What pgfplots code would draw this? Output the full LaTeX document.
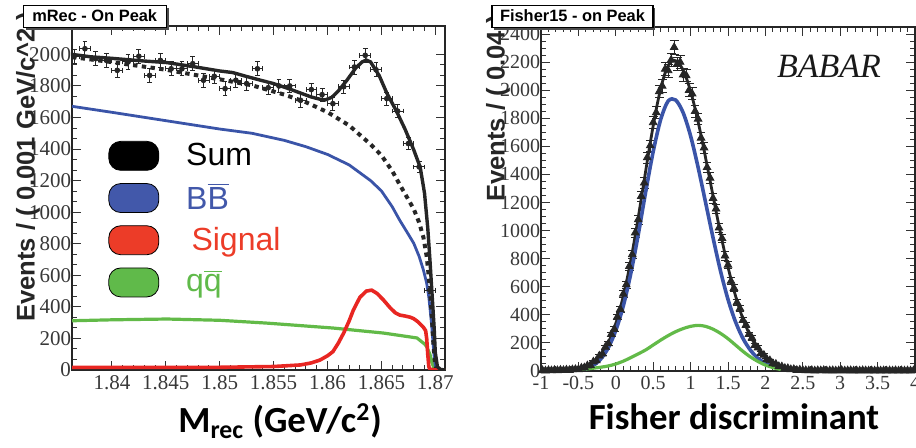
\documentclass[border=0pt]{standalone}
\usepackage{pgfplots}
\pgfplotsset{compat=1.18}
\usepackage{pgfplotstable}
\usepackage{fontspec}
\setmainfont{Liberation Serif}
\newfontfamily\lsans{Liberation Sans}
\newfontfamily\carlito{Carlito}
\usetikzlibrary{shadows}
\definecolor{blueC}{RGB}{58,84,168}
\definecolor{redC}{RGB}{232,38,34}
\definecolor{greenC}{RGB}{98,186,72}
\definecolor{legBlue}{RGB}{66,88,170}
\definecolor{legRed}{RGB}{236,60,40}
\definecolor{legGreen}{RGB}{96,186,74}

% ---------- left panel: Mrec ----------
\pgfplotstableread{
x y ex ey
1.8365 1988 0.0005 45
1.8375 2036 0.0005 45
1.8385 1973 0.0005 45
1.8395 1962 0.0005 45
1.8405 1899 0.0005 44
1.8415 1952 0.0005 45
1.8425 1988 0.0005 45
1.8435 1867 0.0005 44
1.8445 1962 0.0005 45
1.8455 1909 0.0005 44
1.8465 1909 0.0005 44
1.8475 1941 0.0005 44
1.8485 1836 0.0005 43
1.8495 1861 0.0005 43
1.8505 1783 0.0005 43
1.8515 1836 0.0005 43
1.8525 1815 0.0005 43
1.8535 1909 0.0005 44
1.8545 1789 0.0005 43
1.8555 1800 0.0005 43
1.8565 1800 0.0005 43
1.8575 1709 0.0005 42
1.8585 1777 0.0005 42
1.8595 1745 0.0005 42
1.8605 1688 0.0005 41
1.8615 1795 0.0005 43
1.8625 1920 0.0005 44
1.8635 1994 0.0005 45
1.8645 1903 0.0005 44
1.8655 1720 0.0005 42
1.8665 1641 0.0005 41
1.8675 1435 0.0005 38
1.8685 1287 0.0005 36
1.8695 506 0.0005 23
}\mrecdata

\pgfplotstableread{
x y
1.8363 2000
1.8380 1985
1.8400 1975
1.8414 1967
1.8430 1958
1.8451 1948
1.8476 1922
1.8500 1895
1.8512 1885
1.8525 1860
1.8537 1838
1.8550 1815
1.8563 1785
1.8575 1755
1.8585 1730
1.8593 1716
1.8598 1712
1.8604 1728
1.8610 1768
1.8618 1836
1.8626 1912
1.8632 1952
1.8636 1964
1.8640 1952
1.8648 1865
1.8655 1755
1.8664 1640
1.8672 1525
1.8680 1395
1.8686 1285
1.8690 1120
1.8693 900
1.8695 700
1.8697 480
1.8699 260
1.8700 110
1.8702 20
1.8705 3
1.8710 0
}\mrecsum

\pgfplotstableread{
x y
1.8363 1983
1.8400 1951
1.8450 1903
1.8500 1842
1.8530 1804
1.8560 1745
1.8580 1697
1.8600 1634
1.8620 1550
1.8640 1430
1.8650 1360
1.8660 1262
1.8667 1175
1.8675 1080
1.8680 1020
1.8685 935
1.8689 840
1.8692 720
1.8694 590
1.8696 420
1.8697 310
1.8698 190
1.8699 95
1.8700 30
1.8701 5
1.8705 0
}\mrecbkg

\pgfplotstableread{
x y
1.8363 1671
1.8400 1633
1.8450 1580
1.8500 1527
1.8530 1500
1.8560 1455
1.8580 1415
1.8600 1366
1.8620 1300
1.8640 1200
1.8650 1135
1.8660 1035
1.8667 949
1.8675 860
1.8680 803
1.8685 720
1.8689 633
1.8692 550
1.8694 462
1.8696 330
1.8697 253
1.8698 160
1.8699 85
1.8700 30
1.8701 5
1.8705 0
1.8710 0
}\mrecbb

\pgfplotstableread{
x y
1.8363 312
1.8400 318
1.8451 323
1.8500 315
1.8544 297
1.8605 266
1.8652 234
1.8683 203
1.8690 165
1.8692 148
1.8695 100
1.8697 44
1.8699 10
1.8700 0
1.8710 0
}\mrecqq

\pgfplotstableread{
x y
1.8363 17
1.8500 17
1.8550 22
1.8575 32
1.8585 45
1.8593 63
1.8600 90
1.8605 116
1.8610 170
1.8615 234
1.8620 310
1.8624 380
1.8630 460
1.8636 500
1.8641 506
1.8646 485
1.8652 443
1.8658 395
1.8663 362
1.8667 348
1.8672 342
1.8677 334
1.8680 325
1.8684 305
1.8689 270
1.8691 250
1.8692 200
1.8693 100
1.8694 20
1.8695 5
1.8700 0
1.8710 0
}\mrecsig

% ---------- right panel: Fisher ----------
\pgfplotstableread{
x y ey
-0.98 4 2
-0.94 2 1
-0.90 5 2
-0.86 3 2
-0.82 6 2
-0.78 4 2
-0.74 7 3
-0.70 5 2
-0.66 8 3
-0.62 6 2
-0.58 10 3
-0.54 12 3
-0.50 11 3
-0.46 22 5
-0.42 24 5
-0.38 38 6
-0.34 41 6
-0.30 66 8
-0.26 74 9
-0.22 108 10
-0.18 122 11
-0.14 170 13
-0.10 195 14
-0.06 262 16
-0.02 298 17
0.02 385 20
0.06 440 21
0.10 548 23
0.14 615 25
0.18 745 27
0.22 830 29
0.26 985 31
0.30 1078 33
0.34 1245 35
0.38 1340 37
0.42 1520 39
0.46 1605 40
0.50 1770 42
0.54 1840 43
0.58 1990 45
0.62 2030 45
0.66 2150 46
0.70 2140 46
0.74 2215 47
0.78 2305 48
0.82 2185 47
0.86 2200 47
0.90 2110 46
0.94 2105 46
0.98 2000 45
1.02 1975 44
1.06 1850 43
1.10 1795 42
1.14 1660 41
1.18 1590 40
1.22 1450 38
1.26 1375 37
1.30 1230 35
1.34 1155 34
1.38 1020 32
1.42 945 31
1.46 820 29
1.50 755 27
1.54 640 25
1.58 590 24
1.62 488 22
1.66 445 21
1.70 362 19
1.74 328 18
1.78 262 16
1.82 236 15
1.86 184 14
1.90 166 13
1.94 126 11
1.98 113 11
2.02 84 9
2.06 75 9
2.10 54 7
2.14 49 7
2.18 33 6
2.22 31 6
2.26 20 4
2.30 19 4
2.34 11 3
2.38 12 3
2.42 6 2
2.46 8 3
2.50 5 2
2.54 4 2
2.58 3 2
2.62 5 2
2.66 2 1
2.70 4 2
2.74 3 2
2.78 5 2
2.82 2 1
2.86 3 2
2.90 4 2
2.94 2 1
2.98 3 2
3.02 5 2
3.06 2 1
3.10 3 2
3.14 4 2
3.18 2 1
3.22 3 2
3.26 2 1
3.30 4 2
3.34 3 2
3.38 2 1
3.42 3 2
3.46 2 1
3.50 4 2
3.54 2 1
3.58 3 2
3.62 2 1
3.66 3 2
3.70 2 1
3.74 4 2
3.78 2 1
3.82 3 2
3.86 2 1
3.90 3 2
3.94 2 1
3.98 3 2
}\fishdata

\pgfplotstableread{
x y
-1.00 3
-0.80 4
-0.62 8
-0.54 10
-0.50 14
-0.46 19
-0.42 26
-0.38 34
-0.34 45
-0.30 60
-0.26 78
-0.22 100
-0.18 128
-0.14 162
-0.10 202
-0.06 250
-0.02 307
0.02 373
0.06 448
0.10 533
0.14 628
0.18 732
0.22 845
0.26 966
0.30 1093
0.34 1225
0.38 1359
0.42 1493
0.46 1623
0.50 1747
0.54 1862
0.58 1965
0.62 2053
0.66 2123
0.70 2175
0.74 2205
0.78 2213
0.82 2204
0.86 2180
0.90 2142
0.94 2091
0.98 2028
1.02 1953
1.06 1869
1.10 1776
1.14 1677
1.18 1573
1.22 1465
1.26 1356
1.30 1247
1.34 1138
1.38 1033
1.42 931
1.46 833
1.50 741
1.54 654
1.58 574
1.62 500
1.66 433
1.70 372
1.74 318
1.78 270
1.82 228
1.86 191
1.90 159
1.94 131
1.98 108
2.02 88
2.06 71
2.10 57
2.14 46
2.18 36
2.22 29
2.26 22
2.30 17
2.34 13
2.38 10
2.42 8
2.46 6
2.50 4
2.70 3
3.00 3
4.00 3
}\fishsum

\pgfplotstableread{
x y
-1.0 0
-0.6 0
-0.5 4
-0.4 15
-0.3 40
-0.2 86
-0.1 166
0.0 289
0.1 463
0.2 693
0.3 971
0.4 1277
0.5 1563
0.6 1791
0.7 1923
0.8 1930
0.9 1840
1.0 1674
1.1 1451
1.2 1201
1.3 949
1.4 712
1.5 510
1.6 351
1.7 232
1.8 148
1.9 91
2.0 55
2.1 33
2.2 20
2.3 11
2.5 2
3.0 0
4.0 0
}\fishbb

\pgfplotstableread{
x y
-1.0 2
-0.8 4
-0.6 7
-0.5 10
-0.4 14
-0.3 20
-0.2 27
-0.1 36
0.0 50
0.1 70
0.2 95
0.3 122
0.4 150
0.5 185
0.6 220
0.7 252
0.8 280
0.9 302
1.0 318
1.1 325
1.2 318
1.3 298
1.4 268
1.5 230
1.6 185
1.7 140
1.8 100
1.9 68
2.0 42
2.1 24
2.2 12
2.3 6
2.5 2
3.0 1
4.0 1
}\fishqq

\begin{document}
\begin{tikzpicture}
\useasboundingbox (0,0) rectangle (458pt,224pt);
\pgfplotsset{
  rootstyle/.style={
    scale only axis, anchor=south west,
    axis line style={line width=0.6pt, black!85},
    tick style={line width=0.5pt, black!80},
    tick align=inside, xtick pos=both, ytick pos=both,
    major tick length=4.5pt, minor tick length=2.5pt,
    tick label style={font=\fontsize{10.5}{12}\selectfont, text=black!78},
    /pgf/number format/assume math mode=true,
    /pgf/number format/1000 sep={},
    scaled ticks=false,
    yticklabel style={inner xsep=0.3pt},
    xticklabel style={inner ysep=2.5pt},
    ylabel style={font=\lsans\bfseries\fontsize{12.8}{14}\selectfont, anchor=center, text=black!85},
    xlabel style={font=\carlito\bfseries\fontsize{18.4}{20}\selectfont, anchor=base},
  }
}
\tikzset{titlebox/.style={anchor=north west, draw=black, line width=0.6pt, fill=white,
      inner sep=0pt, minimum height=11pt, text height=6pt, text depth=1.5pt,
      font=\lsans\bfseries\fontsize{8.2}{9}\selectfont,
      drop shadow={shadow xshift=1.2pt, shadow yshift=-1.2pt, opacity=1, fill=black!70}}}
% ======== left ========
\begin{axis}[rootstyle,
  at={(36pt,39pt)}, width=186.5pt, height=172pt,
  xmin=1.8363, xmax=1.8709, ymin=0, ymax=2180,
  xtick={1.84,1.845,1.85,1.855,1.86,1.865,1.87},
  xticklabels={1.84,1.845,1.85,1.855,1.86,1.865,1.87},
  minor x tick num=4,
  ytick={0,200,400,600,800,1000,1200,1400,1600,1800,2000},
  minor y tick num=2,
  ylabel={Events / ( 0.001 GeV/c\textasciicircum 2 )},
  ylabel style={at={(axis description cs:-0.118,0.59)}},
  xlabel={M\textsubscript{rec} (GeV/c\textsuperscript{2})},
  xlabel style={at={(axis description cs:0.558,-0.183)}},
  legend image code/.code={\fill[#1, rounded corners=6pt] (0pt,-7.25pt) rectangle (25pt,7.25pt);},
  legend cell align=left,
  legend style={at={(0.0965,0.667)}, anchor=north west, draw=none, fill=none,
    inner sep=0pt, row sep=6.2pt, column sep=13.5pt,
    font=\lsans\fontsize{16}{16}\selectfont,
    nodes={inner sep=0pt}},
]
\addlegendimage{fill=black}
\addlegendentry{Sum}
\addlegendimage{fill=legBlue}
\addlegendentry{\textcolor{legBlue}{B$\overline{\mbox{B}}$}}
\addlegendimage{fill=legRed}
\addlegendentry{\textcolor{legRed}{\,Signal}}
\addlegendimage{fill=legGreen}
\addlegendentry{\textcolor{legGreen}{q$\overline{\mbox{q}}$}}

\addplot[greenC, line width=1.6pt] table[x=x,y=y] {\mrecqq};
\addplot[blueC, line width=1.4pt] table[x=x,y=y] {\mrecbb};
\addplot[black!85, line width=2pt, dash pattern=on 2.2pt off 2.2pt] table[x=x,y=y] {\mrecbkg};
\addplot[redC, line width=1.8pt] table[x=x,y=y] {\mrecsig};
\addplot[black!85, line width=1.7pt] table[x=x,y=y] {\mrecsum};
\addplot[black!85, only marks, mark=*, mark size=1.2pt,
  error bars/.cd, x dir=both, x explicit, y dir=both, y explicit,
  error bar style={line width=0.5pt, black!85}]
  table[x=x, y=y, x error=ex, y error=ey] {\mrecdata};
\end{axis}
% ======== right ========
\begin{axis}[rootstyle,
  at={(270.5pt,38.5pt)}, width=187pt, height=172pt,
  xmin=-1, xmax=4, ymin=0, ymax=2450,
  xtick={-1,-0.5,0,0.5,1,1.5,2,2.5,3,3.5,4},
  xticklabels={-1,-0.5,0,0.5,1,1.5,2,2.5,3,3.5,4},
  minor x tick num=4,
  ytick={0,200,400,600,800,1000,1200,1400,1600,1800,2000,2200,2400},
  minor y tick num=3,
  tick label style={font=\fontsize{10}{12}\selectfont},
  ylabel={Events / ( 0.04 )},
  ylabel style={at={(axis description cs:-0.115,0.763)}},
  xlabel={Fisher discriminant},
  xlabel style={at={(axis description cs:0.516,-0.1715)}},
]
\addplot[black!85, line width=1.4pt, smooth] table[x=x,y=y] {\fishsum};
\addplot[black!85, only marks, mark=triangle*, mark size=2.2pt,
  error bars/.cd, y dir=both, y explicit,
  error bar style={line width=0.5pt, black!85}]
  table[x=x, y=y, y error=ey] {\fishdata};
\addplot[blueC, line width=1.8pt, smooth] table[x=x,y=y] {\fishbb};
\addplot[greenC, line width=1.6pt, smooth] table[x=x,y=y] {\fishqq};
\node[font=\itshape\fontsize{17}{17}\selectfont, text=black!90] at (rel axis cs:0.77,0.887) {BABAR};
\end{axis}
% title boxes
\node[titlebox, minimum width=71.5pt] at (11.3pt,221.5pt) {mRec - On Peak};
\node[titlebox, minimum width=80.5pt] at (245.7pt,221.5pt) {Fisher15 - on Peak};
\end{tikzpicture}
\end{document}
